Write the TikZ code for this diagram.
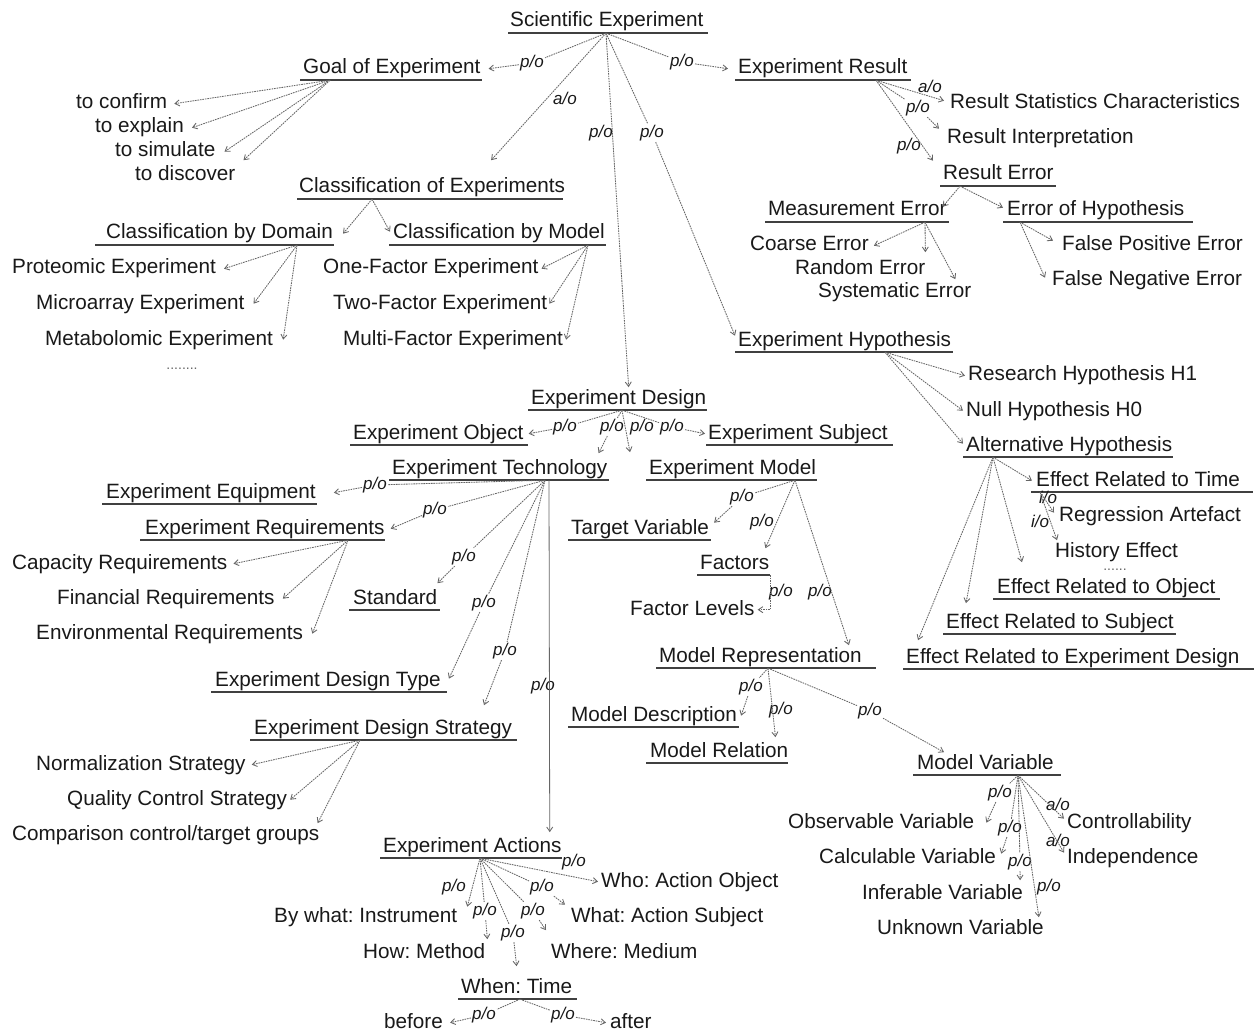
\documentclass[tikz,border=0pt]{standalone}
\usepackage{fontspec}
\setmainfont{Liberation Sans}
\usetikzlibrary{arrows.meta,calc}
\frenchspacing
\newcommand\fs{\fontsize{20.7pt}{24pt}\selectfont}
\newcommand\ls{\fontsize{17pt}{20pt}\selectfont\itshape}
\newcommand\ulx[3]{\draw[ul] ([xshift=-#2pt]#1.south west) -- ([xshift=#3pt]#1.south east);}
\begin{document}
\begin{tikzpicture}[x=1pt,y=-1pt,
  txt/.style={font=\fs, text=black!90, inner xsep=0pt, inner ysep=1.6pt, text height=15pt, text depth=4.4pt, anchor=base west},
  lab/.style={font=\ls, inner sep=1pt, text=black!90},
  dotsty/.style={font=\fontsize{14pt}{16pt}\selectfont, text=black!60, inner sep=0pt, anchor=base},
  ul/.style={draw=black!75, line width=1.6pt},
  arr/.style={draw=black!60, line width=0.85pt, dash pattern=on 1.6pt off 0.9pt, -{Straight Barb[length=4.5pt,width=6pt]}},
  solidarr/.style={draw=black!60, line width=0.8pt, -{Straight Barb[length=4.5pt,width=6pt]}}]
\useasboundingbox[fill=white] (0,0) rectangle (1254,1035);

% ---------- text nodes ----------
\node[txt] (SE) at (510,27) {Scientific Experiment};
\node[txt] (goal) at (303,74) {Goal of Experiment};
\node[txt] (res) at (738,74) {Experiment Result};
\node[txt] (conf) at (76,109) {to confirm};
\node[txt] (expl) at (95,133) {to explain};
\node[txt] (simu) at (115,157) {to simulate};
\node[txt] (disc) at (135,181) {to discover};
\node[txt] (clsE) at (299,193) {Classification of Experiments};
\node[txt] (rsc) at (950,109) {Result Statistics Characteristics};
\node[txt] (rint) at (947,144) {Result Interpretation};
\node[txt] (rerr) at (943,180) {Result Error};
\node[txt] (merr) at (768,216) {Measurement Error};
\node[txt] (ehyp) at (1007,216) {Error of Hypothesis};
\node[txt] (coarse) at (750,251) {Coarse Error};
\node[txt] (random) at (795,275) {Random Error};
\node[txt] (syst) at (818,298) {Systematic Error};
\node[txt] (fpos) at (1062,251) {False Positive Error};
\node[txt] (fneg) at (1052,286) {False Negative Error};
\node[txt] (cdom) at (106,239) {Classification by Domain};
\node[txt] (cmod) at (393,239) {Classification by Model};
\node[txt] (prot) at (12,274) {Proteomic Experiment};
\node[txt] (micro) at (36,309) {Microarray Experiment};
\node[txt] (meta) at (45,345) {Metabolomic Experiment};
\node[txt] (onef) at (323,274) {One-Factor Experiment};
\node[txt] (twof) at (333,309) {Two-Factor Experiment};
\node[txt] (multf) at (343,345) {Multi-Factor Experiment};
\node[txt] (hyp) at (738,346) {Experiment Hypothesis};
\node[txt] (h1) at (968,381) {Research Hypothesis H1};
\node[txt] (h0) at (966,416) {Null Hypothesis H0};
\node[txt] (alt) at (966,451) {Alternative Hypothesis};
\node[txt] (edes) at (531,404) {Experiment Design};
\node[txt] (eobj) at (353,439) {Experiment Object};
\node[txt] (esub) at (708,439) {Experiment Subject};
\node[txt] (etech) at (392,474) {Experiment Technology};
\node[txt] (emod) at (649,474) {Experiment Model};
\node[txt] (etime) at (1036,486) {Effect Related to Time};
\node[txt] (regr) at (1059,521) {Regression Artefact};
\node[txt] (hist) at (1055,557) {History Effect};
\node[txt] (eobjeff) at (997,593) {Effect Related to Object};
\node[txt] (esubeff) at (946,628) {Effect Related to Subject};
\node[txt] (edeseff) at (906,663) {Effect Related to Experiment Design};
\node[txt] (equip) at (106,498) {Experiment Equipment};
\node[txt] (ereq) at (145,534) {Experiment Requirements};
\node[txt] (tvar) at (571,534) {Target Variable};
\node[txt] (cap) at (12,569) {Capacity Requirements};
\node[txt] (fin) at (57,604) {Financial Requirements};
\node[txt] (env) at (36,639) {Environmental Requirements};
\node[txt] (fact) at (700,569) {Factors};
\node[txt] (std) at (353,604) {Standard};
\node[txt] (flev) at (630,615) {Factor Levels};
\node[txt] (mrep) at (659,662) {Model Representation};
\node[txt] (edt) at (215,686) {Experiment Design Type};
\node[txt] (mdesc) at (571,721) {Model Description};
\node[txt] (eds) at (254,734) {Experiment Design Strategy};
\node[txt] (mrel) at (650,757) {Model Relation};
\node[txt] (norm) at (36,770) {Normalization Strategy};
\node[txt] (mvar) at (917,769) {Model Variable};
\node[txt] (qual) at (67,805) {Quality Control Strategy};
\node[txt] (comp) at (12,840) {Comparison control/target groups};
\node[txt] (obs) at (788,828) {Observable Variable};
\node[txt] (ctrl) at (1067,828) {Controllability};
\node[txt] (calc) at (819,863) {Calculable Variable};
\node[txt] (indep) at (1067,863) {Independence};
\node[txt] (infer) at (862,899) {Inferable Variable};
\node[txt] (unk) at (877,934) {Unknown Variable};
\node[txt] (eact) at (383,852) {Experiment Actions};
\node[txt] (who) at (601,887) {Who: Action Object};
\node[txt] (bywhat) at (274,922) {By what: Instrument};
\node[txt] (what) at (571,922) {What: Action Subject};
\node[txt] (how) at (363,958) {How: Method};
\node[txt] (where) at (551,958) {Where: Medium};
\node[txt] (when) at (461,993) {When: Time};
\node[txt] (before) at (384,1028) {before};
\node[txt] (after) at (610,1028) {after};
\node[dotsty] (dots1) at (182,370) {........};
\node[dotsty] (dots2) at (1115,570) {......};

% ---------- underlines ----------
\ulx{SE}{2}{4}
\ulx{goal}{3}{1}
\ulx{res}{3}{3}
\ulx{clsE}{2}{-2}
\ulx{rerr}{3}{2}
\ulx{merr}{3}{2}
\ulx{ehyp}{4}{8}
\ulx{cdom}{11}{1}
\ulx{cmod}{4}{1}
\ulx{hyp}{3}{2}
\ulx{alt}{3}{1}
\ulx{edes}{3}{1}
\ulx{eobj}{3}{4}
\ulx{esub}{2}{5}
\ulx{etech}{3}{1}
\ulx{emod}{3}{1}
\ulx{etime}{5}{13}
\ulx{eobjeff}{4}{4}
\ulx{esubeff}{3}{2}
\ulx{edeseff}{3}{14}
\ulx{equip}{4}{1}
\ulx{ereq}{5}{0}
\ulx{tvar}{3}{2}
\ulx{fact}{3}{1}
\ulx{std}{4}{3}
\ulx{mrep}{3}{14}
\ulx{edt}{4}{6}
\ulx{mdesc}{3}{2}
\ulx{eds}{4}{5}
\ulx{mrel}{4}{0}
\ulx{mvar}{4}{7}
\ulx{eact}{3}{0}
\ulx{when}{3}{5}

% ---------- hubs ----------
\coordinate (hSE) at ([xshift=96pt]SE.south west);
\coordinate (hG) at ([xshift=27pt]goal.south west);
\coordinate (hR) at ([xshift=138pt]res.south west);
\coordinate (hRE) at ([xshift=17pt]rerr.south west);
\coordinate (hM) at ([xshift=157pt]merr.south west);
\coordinate (hEH) at ([xshift=13pt]ehyp.south west);
\coordinate (hC) at ([xshift=73pt]clsE.south west);
\coordinate (hCD) at ([xshift=191pt]cdom.south west);
\coordinate (hCM) at ([xshift=195pt]cmod.south west);
\coordinate (hH) at ([xshift=147pt]hyp.south west);
\coordinate (hA) at ([xshift=27pt]alt.south west);
\coordinate (hTi) at ([xshift=4pt]etime.south west);
\coordinate (hD) at ([xshift=91pt]edes.south west);
\coordinate (hT) at ([xshift=153pt]etech.south west);
\coordinate (hT3) at ([xshift=157pt]etech.south west);
\coordinate (hRq) at ([xshift=203pt]ereq.south west);
\coordinate (hS) at ([xshift=106pt]eds.south west);
\coordinate (hMo) at ([xshift=146pt]emod.south west);
\coordinate (hMR) at ([xshift=109pt]mrep.south west);
\coordinate (hMV) at ([xshift=101pt]mvar.south west);
\coordinate (hEA) at ([xshift=97pt]eact.south west);
\coordinate (hW) at ([xshift=59pt]when.south west);

% ---------- labels ----------
\node[lab] (lG) at (532,63) {p/o};
\node[lab] (lC) at (565,98) {a/o};
\node[lab] (lD) at (601,133) {p/o};
\node[lab] (lH) at (652,133) {p/o};
\node[lab] (lR) at (682,62) {p/o};
\node[lab] (lR1) at (930,86) {a/o};
\node[lab] (lR2) at (918,108) {p/o};
\node[lab] (lR3) at (909,146) {p/o};
\node[lab] (lD1) at (565,427) {p/o};
\node[lab] (lD2) at (612,427) {p/o};
\node[lab] (lD3) at (642,427) {p/o};
\node[lab] (lD4) at (672,427) {p/o};
\node[lab] (lT1) at (375,485) {p/o};
\node[lab] (lT2) at (435,510) {p/o};
\node[lab] (lT3) at (464,557) {p/o};
\node[lab] (lT4) at (484,603) {p/o};
\node[lab] (lT5) at (505,651) {p/o};
\node[lab] (lT6) at (543,686) {p/o};
\node[lab] (lM1) at (742,497) {p/o};
\node[lab] (lM2) at (762,522) {p/o};
\node[lab] (lM3) at (820,592) {p/o};
\node[lab] (lF) at (781,592) {p/o};
\node[lab] (lMR1) at (751,687) {p/o};
\node[lab] (lMR2) at (781,710) {p/o};
\node[lab] (lMR3) at (870,711) {p/o};
\node[lab] (lV1) at (1000,793) {p/o};
\node[lab] (lV2) at (1010,828) {p/o};
\node[lab] (lV3) at (1020,862) {p/o};
\node[lab] (lV4) at (1049,887) {p/o};
\node[lab] (lV5) at (1058,804) {a/o};
\node[lab] (lV6) at (1058,840) {a/o};
\node[lab] (lTi1) at (1048,497) {i/o};
\node[lab] (lTi2) at (1040,521) {i/o};
\node[lab] (lA1) at (574,862) {p/o};
\node[lab] (lA2) at (454,887) {p/o};
\node[lab] (lA3) at (485,911) {p/o};
\node[lab] (lA4) at (513,933) {p/o};
\node[lab] (lA5) at (533,911) {p/o};
\node[lab] (lA6) at (542,887) {p/o};
\node[lab] (lW1) at (484,1015) {p/o};
\node[lab] (lW2) at (563,1015) {p/o};

% ---------- connectors ----------
\draw[arr] (hG) -- ([xshift=7pt]conf.east);
\draw[arr] (hG) -- ([xshift=8pt]expl.east);
\draw[arr] (hG) -- ([xshift=9pt]simu.east);
\draw[arr] (hG) -- ([xshift=8pt,yshift=4pt]disc.north east);

\draw[arr] (hSE) -- (lG) -- ([xshift=8pt]goal.east);
\draw[arr] (hSE) -- ([shift={(59pt,16pt)}]clsE.north);
\draw[arr] (hSE) -- ([xshift=10pt]edes.north);
\draw[arr] (hSE) -- (lH) -- ([xshift=-3pt,yshift=5pt]hyp.west);
\draw[arr] (hSE) -- (lR) -- ([xshift=-10pt]res.west);

\draw[arr] (hR) -- ([xshift=-6pt,yshift=3pt]rsc.west);
\draw[arr] (hR) -- (lR2) -- ([xshift=-8pt,yshift=10pt]rint.west);
\draw[arr] (hR) -- ([xshift=-10pt,yshift=14pt]rerr.west);
\draw[arr] (hRE) -- ([xshift=-4pt,yshift=4pt]merr.east);
\draw[arr] (hRE) -- ([xshift=-4pt,yshift=3pt]ehyp.west);
\draw[arr] (hM) -- ([xshift=5pt]coarse.east);
\draw[arr] (hM) -- ([yshift=6pt]random.north east);
\draw[arr] (hM) -- ([xshift=-16pt,yshift=2pt]syst.north east);
\draw[arr] (hEH) -- ([xshift=-9pt,yshift=5pt]fpos.west);
\draw[arr] (hEH) -- ([xshift=-7pt,yshift=3pt]fneg.west);

\draw[arr] (hC) -- ([xshift=10pt]cdom.east);
\draw[arr] (hC) -- ([xshift=-3pt,yshift=2pt]cmod.west);
\draw[arr] (hCD) -- ([xshift=8pt]prot.east);
\draw[arr] (hCD) -- ([xshift=9pt]micro.east);
\draw[arr] (hCD) -- ([xshift=10pt]meta.east);
\draw[arr] (hCM) -- ([xshift=3pt]onef.east);
\draw[arr] (hCM) -- ([xshift=2pt]twof.east);
\draw[arr] (hCM) -- ([xshift=3pt]multf.east);

\draw[arr] (hH) -- ([xshift=-3pt]h1.west);
\draw[arr] (hH) -- ([xshift=-3pt]h0.west);
\draw[arr] (hH) -- ([xshift=-3pt,yshift=2pt]alt.west);
\draw[arr] (hA) -- ([xshift=-4pt]etime.west);
\draw[arr] (hA) -- ([xshift=25pt,yshift=14pt]eobjeff.north west);
\draw[arr] (hA) -- ([xshift=20pt,yshift=8pt]esubeff.north west);
\draw[arr] (hA) -- ([xshift=12pt,yshift=6pt]edeseff.north west);
\draw[arr] (hTi) -- ([xshift=-5pt,yshift=3pt]regr.west);
\draw[arr] (hTi) -- ([xshift=2pt]hist.north west);

\draw[arr] (hD) -- (lD1) -- ([xshift=5pt]eobj.east);
\draw[arr] (hD) -- (lD2) -- ([xshift=-9pt,yshift=4pt]etech.north east);
\draw[arr] (hD) -- ([xshift=-19pt,yshift=5pt]emod.north west);
\draw[arr] (hD) -- (lD4) -- ([xshift=-3pt]esub.west);

\draw[arr] (hT) -- (lT1) -- ([xshift=18pt]equip.east);
\draw[arr] (hT) -- (lT2) -- ([xshift=6pt]ereq.east);
\draw[arr] (hT) -- (lT3) -- ([yshift=4pt]std.north east);
\draw[arr] (hT) -- (lT4) -- ([xshift=8pt,yshift=2pt]edt.east);
\draw[arr] (hT) -- (lT5) -- ([shift={(230pt,12pt)}]eds.north west);
\draw[solidarr] (hT3) -- ([xshift=-12pt,yshift=3pt]eact.north east);

\draw[arr] (hRq) -- ([xshift=6pt]cap.east);
\draw[arr] (hRq) -- ([xshift=8pt]fin.east);
\draw[arr] (hRq) -- ([xshift=9pt]env.east);
\draw[arr] (hS) -- ([xshift=6pt]norm.east);
\draw[arr] (hS) -- ([xshift=3pt]qual.east);
\draw[arr] (hS) -- ([xshift=-2pt]comp.north east);

\draw[arr] (hMo) -- (lM1) -- ([xshift=5pt,yshift=6pt]tvar.east);
\draw[arr] (hMo) -- ([xshift=-4pt,yshift=4pt]fact.north east);
\draw[arr] (hMo) -- ([xshift=-13pt]mrep.north east);
\draw[arr] ([xshift=1pt]fact.south east) |- ([xshift=3pt]flev.east);

\draw[arr] (hMR) -- (lMR1) -- ([xshift=4pt]mdesc.east);
\draw[arr] (hMR) -- ([xshift=-13pt,yshift=3pt]mrel.north east);
\draw[arr] (hMR) -- (lMR3) -- ([xshift=27pt]mvar.north west);

\draw[arr] (hMV) -- (lV1) -- ([xshift=12pt]obs.east);
\draw[arr] (hMV) -- (lV2) -- ([xshift=5pt,yshift=4pt]calc.east);
\draw[arr] (hMV) -- (lV3) -- ([xshift=-3pt,yshift=2pt]infer.north east);
\draw[arr] (hMV) -- ([xshift=-5pt]unk.north east);
\draw[arr] (hMV) -- ([xshift=-3pt,yshift=4pt]ctrl.west);
\draw[arr] (hMV) -- ([xshift=-3pt,yshift=5pt]indep.west);

\draw[arr] (hEA) -- ([xshift=-3pt]who.west);
\draw[arr] (hEA) -- ([xshift=10pt,yshift=10pt]bywhat.east);
\draw[arr] (hEA) -- (lA3) -- ([xshift=2pt,yshift=2pt]how.north east);
\draw[arr] (hEA) -- (lA4) -- ([yshift=10pt]when.north);
\draw[arr] (hEA) -- (lA5) -- ([xshift=-5pt,yshift=11pt]where.north west);
\draw[arr] (hEA) -- (lA6) -- ([xshift=-6pt,yshift=12pt]what.west);

\draw[arr] (hW) -- (lW1) -- ([xshift=7pt]before.east);
\draw[arr] (hW) -- (lW2) -- ([xshift=-4pt]after.west);
\end{tikzpicture}
\end{document}
